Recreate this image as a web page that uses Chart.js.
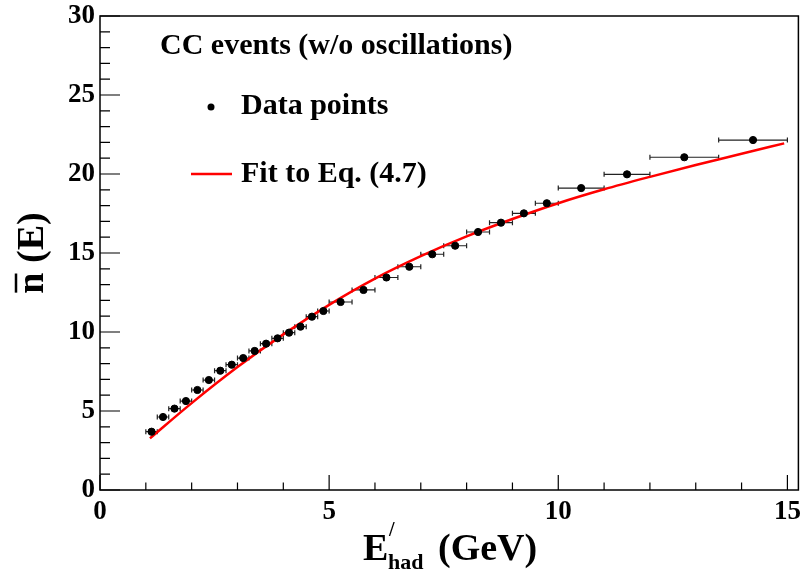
<!DOCTYPE html>
<html>
<head>
<meta charset="utf-8">
<script src="https://cdn.jsdelivr.net/npm/chart.js@4.4.1/dist/chart.umd.min.js"></script>
<style>
  html, body { margin: 0; padding: 0; background: #fff; }
  #wrap { width: 803px; height: 572px; }
</style>
</head>
<body>
<div id="wrap"><canvas id="nChart"></canvas></div>
<script>
// bin centres (GeV), half widths, and mean n per bin
const binCenters = [1.125, 1.375, 1.625, 1.875, 2.125, 2.375, 2.625, 2.875, 3.125, 3.375,
  3.625, 3.875, 4.125, 4.375, 4.625, 4.875, 5.25, 5.75, 6.25, 6.75,
  7.25, 7.75, 8.25, 8.75, 9.25, 9.75, 10.5, 11.5, 12.75, 14.25];
const binHalfWidths = [0.125, 0.125, 0.125, 0.125, 0.125, 0.125, 0.125, 0.125, 0.125, 0.125,
  0.125, 0.125, 0.125, 0.125, 0.125, 0.125, 0.25, 0.25, 0.25, 0.25,
  0.25, 0.25, 0.25, 0.25, 0.25, 0.25, 0.5, 0.5, 0.75, 0.75];
const meanN = [3.69, 4.62, 5.15, 5.63, 6.33, 6.96, 7.55, 7.93, 8.35, 8.80,
  9.26, 9.60, 9.96, 10.34, 10.97, 11.33, 11.90, 12.66, 13.45, 14.13,
  14.92, 15.46, 16.33, 16.92, 17.51, 18.15, 19.11, 19.98, 21.06, 22.15];

// fit curve
const fitE = [1.09, 2, 3, 4, 5, 6, 7, 8, 9, 10, 11, 12, 13, 14, 14.93];
const fitN = [3.27, 5.5, 7.78, 9.85, 11.72, 13.38, 14.8, 16.05, 17.15, 18.15, 19.03, 19.82, 20.57, 21.28, 21.94];

const xMajorTicks = [0, 5, 10, 15];
const yMajorTicks = [0, 5, 10, 15, 20, 25, 30];

const serif = "'Liberation Serif', 'Times New Roman', serif";

const errorBars = {
  id: "errorBars",
  beforeDatasetsDraw(chart) {
    const ctx = chart.ctx, xs = chart.scales.x, ys = chart.scales.y;
    ctx.save();
    ctx.strokeStyle = "#222";
    ctx.lineWidth = 1.2;
    binCenters.forEach((c, i) => {
      const x0 = xs.getPixelForValue(c - binHalfWidths[i]);
      const x1 = xs.getPixelForValue(c + binHalfWidths[i]);
      const y = ys.getPixelForValue(meanN[i]);
      ctx.beginPath();
      ctx.moveTo(x0, y); ctx.lineTo(x1, y);
      ctx.moveTo(x0, y - 2.5); ctx.lineTo(x0, y + 2.5);
      ctx.moveTo(x1, y - 2.5); ctx.lineTo(x1, y + 2.5);
      ctx.stroke();
    });
    ctx.restore();
  }
};

const frameAndText = {
  id: "frameAndText",
  afterDraw(chart) {
    const ctx = chart.ctx, a = chart.chartArea;
    const xs = chart.scales.x, ys = chart.scales.y;
    ctx.save();
    // frame
    ctx.strokeStyle = "#000";
    ctx.lineWidth = 1.5;
    ctx.strokeRect(a.left, a.top, a.right - a.left, a.bottom - a.top);
    // ticks drawn inside the frame
    ctx.lineWidth = 1.2;
    ctx.beginPath();
    for (let v = 0; v <= 30; v++) {
      const y = ys.getPixelForValue(v);
      const len = v % 5 === 0 ? 20 : 10;
      ctx.moveTo(a.left, y); ctx.lineTo(a.left + len, y);
    }
    for (let v = 0; v <= 15; v++) {
      const x = xs.getPixelForValue(v);
      const len = v % 5 === 0 ? 15 : 7.5;
      ctx.moveTo(x, a.bottom); ctx.lineTo(x, a.bottom - len);
    }
    ctx.stroke();

    // legend
    ctx.fillStyle = "#000";
    ctx.textBaseline = "middle";
    ctx.textAlign = "left";
    ctx.font = "bold 30px " + serif;
    ctx.fillText("CC events (w/o oscillations)", 160, 46);
    ctx.fillText("Data points", 241, 106);
    ctx.fillText("Fit to Eq. (4.7)", 241, 174);
    ctx.beginPath();
    ctx.arc(211, 107, 3.5, 0, Math.PI * 2);
    ctx.fill();
    ctx.strokeStyle = "#ff0000";
    ctx.lineWidth = 2.5;
    ctx.beginPath();
    ctx.moveTo(191, 174); ctx.lineTo(232, 174);
    ctx.stroke();

    // x title: E'_had (GeV)
    ctx.fillStyle = "#000";
    ctx.textBaseline = "alphabetic";
    ctx.font = "bold 38px " + serif;
    ctx.fillText("E", 363, 560);
    ctx.font = "bold 20px " + serif;
    ctx.fillText("/", 389, 536);
    ctx.font = "bold 22px " + serif;
    ctx.fillText("had", 388, 569);
    ctx.font = "bold 38px " + serif;
    ctx.fillText("(GeV)", 438, 560);

    // y title: n-bar (E)
    ctx.translate(43, 253);
    ctx.rotate(-Math.PI / 2);
    ctx.font = "bold 38px " + serif;
    ctx.textAlign = "left";
    const full = "n (E)";
    const w = ctx.measureText(full).width;
    ctx.fillText(full, -w / 2, 0);
    const nw = ctx.measureText("n").width;
    ctx.lineWidth = 2.5;
    ctx.strokeStyle = "#000";
    ctx.beginPath();
    ctx.moveTo(-w / 2 + 1, -27); ctx.lineTo(-w / 2 + nw - 1, -27);
    ctx.stroke();
    ctx.restore();
  }
};

new Chart(document.getElementById("nChart").getContext("2d"), {
  type: "scatter",
  data: {
    datasets: [
      {
        label: "Data points",
        data: binCenters.map((e, i) => ({ x: e, y: meanN[i] })),
        backgroundColor: "#000",
        borderColor: "#000",
        pointRadius: 3.6,
        pointHoverRadius: 3.6,
        showLine: false
      },
      {
        label: "Fit to Eq. (4.7)",
        type: "line",
        data: fitE.map((e, i) => ({ x: e, y: fitN[i] })),
        borderColor: "#ff0000",
        borderWidth: 2.5,
        pointRadius: 0,
        fill: false,
        cubicInterpolationMode: "monotone"
      }
    ]
  },
  options: {
    responsive: true,
    maintainAspectRatio: false,
    animation: false,
    layout: { padding: { left: 0, right: 3, top: 16, bottom: 0 } },
    plugins: { legend: { display: false }, tooltip: { enabled: false } },
    scales: {
      x: {
        type: "linear",
        min: 0,
        max: 15.24,
        grid: { display: false, drawTicks: false },
        border: { display: false },
        ticks: {
          stepSize: 1,
          includeBounds: false,
          autoSkip: false,
          maxRotation: 0,
          padding: 6,
          color: "#000",
          font: { family: serif, size: 27, weight: "bold" },
          callback: v => xMajorTicks.includes(v) ? String(v) : ""
        },
        afterFit: s => { s.height = 82; s.paddingLeft = 0; s.paddingRight = 0; }
      },
      y: {
        min: 0,
        max: 30,
        grid: { display: false, drawTicks: false },
        border: { display: false },
        ticks: {
          stepSize: 1,
          autoSkip: false,
          padding: 5,
          color: "#000",
          font: { family: serif, size: 27, weight: "bold" },
          callback: v => yMajorTicks.includes(v) ? String(v) : ""
        },
        afterFit: s => { s.width = 100; s.paddingTop = 0; s.paddingBottom = 0; }
      }
    }
  },
  plugins: [errorBars, frameAndText]
});
</script>
</body>
</html>
